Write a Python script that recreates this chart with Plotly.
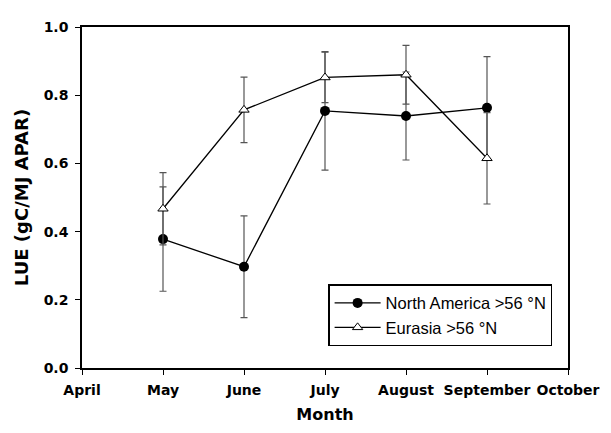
import plotly.graph_objects as go

months = ["April", "May", "June", "July", "August", "September", "October"]
x_idx = [1, 2, 3, 4, 5]

na_vals = [0.378, 0.297, 0.754, 0.739, 0.763]
na_err = [0.153, 0.149, 0.174, 0.129, 0.150]

eu_vals = [0.467, 0.757, 0.852, 0.860, 0.615]
eu_err = [0.106, 0.096, 0.074, 0.086, 0.134]

BOLD = "DejaVu Sans, sans-serif"
REG = "Liberation Sans, Arial, sans-serif"

fig = go.Figure()
fig.add_trace(go.Scatter(
    x=x_idx, y=na_vals, mode="lines+markers", name="North America >56 °N",
    line=dict(color="black", width=1.3),
    marker=dict(symbol="circle", size=10, color="black"),
    error_y=dict(type="data", array=na_err, visible=True, color="#555555", thickness=1.2, width=3.5),
))
fig.add_trace(go.Scatter(
    x=x_idx, y=eu_vals, mode="lines+markers", name="Eurasia >56 °N",
    line=dict(color="black", width=1.3),
    marker=dict(symbol="triangle-up", size=9, color="white", line=dict(color="black", width=1)),
    error_y=dict(type="data", array=eu_err, visible=True, color="#555555", thickness=1.2, width=3.5),
))

# page body has an 8px default margin, so the figure is sized/offset accordingly
fig.update_layout(
    width=603, height=425,
    margin=dict(l=74, r=34, t=11, b=65),
    paper_bgcolor="white", plot_bgcolor="white",
    font=dict(family=REG, color="black"),
    legend=dict(
        x=0.507, y=0.245, xanchor="left", yanchor="top",
        bordercolor="black", borderwidth=1.2, bgcolor="white",
        font=dict(size=16.5, family=REG),
        tracegroupgap=0, itemwidth=46,
    ),
    showlegend=True,
)
fig.update_xaxes(
    range=[0, 6], tickmode="array", tickvals=list(range(len(months))), ticktext=months,
    showline=True, linecolor="black", linewidth=1.5, mirror=True,
    ticks="outside", ticklen=5, tickcolor="black", showgrid=False, zeroline=False,
    tickfont=dict(size=14, family=BOLD, weight="bold"),
    ticklabelstandoff=3, ticklabeloverflow="allow",
    title=dict(text="<b>Month</b>", font=dict(size=16, family=BOLD), standoff=12),
)
fig.update_yaxes(
    range=[0, 1.0], tickmode="array", tickvals=[0, 0.2, 0.4, 0.6, 0.8, 1.0],
    ticktext=["0.0", "0.2", "0.4", "0.6", "0.8", "1.0"],
    showline=True, linecolor="black", linewidth=1.5, mirror=True,
    ticks="outside", ticklen=5, tickcolor="black", showgrid=False, zeroline=False,
    tickfont=dict(size=14, family=BOLD, weight="bold"),
    ticklabelstandoff=4,
    title=dict(text="<b>LUE (gC/MJ APAR)</b>", font=dict(size=18, family=BOLD), standoff=10),
)

fig.write_html("out.html")
